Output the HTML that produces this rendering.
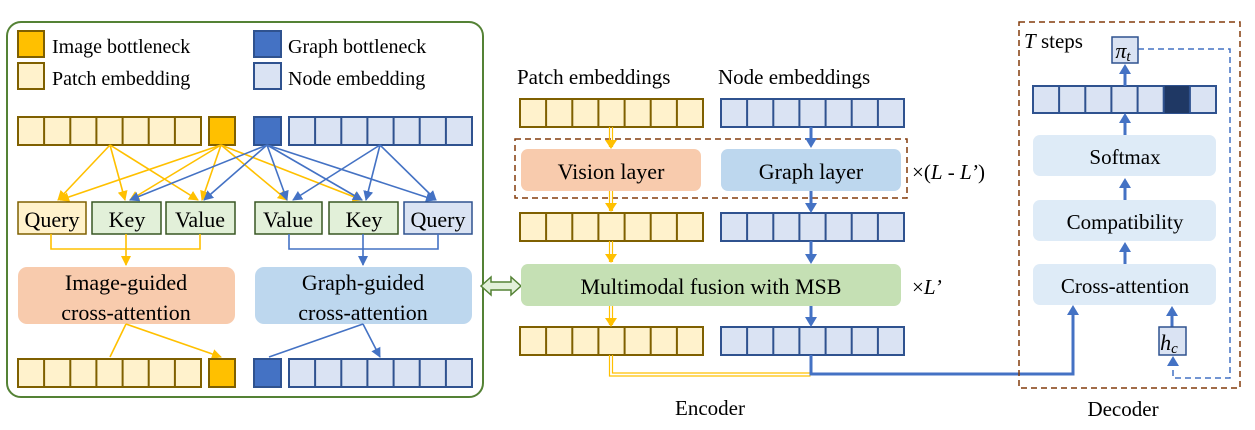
<!DOCTYPE html>
<html><head><meta charset="utf-8"><style>body{margin:0;background:#fff}svg{display:block}text{font-family:"Liberation Serif",serif;fill:#000}</style></head><body>
<svg width="1255" height="430" viewBox="0 0 1255 430" xmlns="http://www.w3.org/2000/svg">
<defs>
<marker id="ay" markerWidth="10" markerHeight="10" refX="9" refY="5" orient="auto" markerUnits="userSpaceOnUse"><path d="M0,0L10,5L0,10z" fill="#ffc000"/></marker>
<marker id="ab" markerWidth="10" markerHeight="10" refX="9" refY="5" orient="auto" markerUnits="userSpaceOnUse"><path d="M0,0L10,5L0,10z" fill="#4472c4"/></marker>
<g id="prow"><rect x="0" y="0" width="183" height="28" fill="#fff2cc" stroke="#7f6000" stroke-width="2"/><path d="M26.1,0v28M52.3,0v28M78.4,0v28M104.6,0v28M130.7,0v28M156.9,0v28" stroke="#7f6000" stroke-width="2"/></g>
<g id="nrow"><rect x="0" y="0" width="183" height="28" fill="#dae3f3" stroke="#2f528f" stroke-width="2"/><path d="M26.1,0v28M52.3,0v28M78.4,0v28M104.6,0v28M130.7,0v28M156.9,0v28" stroke="#2f528f" stroke-width="2"/></g>
</defs>
<rect x="7" y="22" width="476" height="375" rx="14" fill="#fff" stroke="#548235" stroke-width="2"/>
<rect x="18" y="31" width="26" height="26" fill="#ffc000" stroke="#7f6000" stroke-width="2"/>
<rect x="18" y="63" width="26" height="26" fill="#fff2cc" stroke="#7f6000" stroke-width="2"/>
<rect x="254" y="31" width="27" height="26" fill="#4472c4" stroke="#2f528f" stroke-width="2"/>
<rect x="254" y="63" width="27" height="26" fill="#dae3f3" stroke="#2f528f" stroke-width="2"/>
<text x="52" y="53" font-size="20">Image bottleneck</text>
<text x="52" y="85" font-size="20">Patch embedding</text>
<text x="288" y="53" font-size="20">Graph bottleneck</text>
<text x="288" y="85" font-size="20">Node embedding</text>
<use href="#prow" x="18" y="117"/>
<rect x="209" y="117" width="26" height="28" fill="#ffc000" stroke="#7f6000" stroke-width="2"/>
<rect x="254" y="117" width="27" height="28" fill="#4472c4" stroke="#2f528f" stroke-width="2"/>
<use href="#nrow" x="289" y="117"/>
<g stroke-width="1.6" fill="none">
<g stroke="#ffc000" marker-end="url(#ay)">
<path d="M110,145L58,200"/><path d="M110,145L125,200"/><path d="M110,145L198,200"/>
<path d="M221,145L60,200"/><path d="M221,145L130,200"/><path d="M221,145L202,200"/><path d="M221,145L287,200"/><path d="M221,145L362,200"/>
</g>
<g stroke="#4472c4" marker-end="url(#ab)">
<path d="M267,145L130,200"/><path d="M267,145L204,200"/><path d="M267,145L287,200"/><path d="M267,145L362,200"/><path d="M267,145L435,200"/>
<path d="M380,145L293,200"/><path d="M380,145L366,200"/><path d="M380,145L436,200"/>
</g>
</g>
<rect x="18" y="202" width="68" height="32" fill="#fff2cc" stroke="#7f6000" stroke-width="1.5"/>
<rect x="92" y="202" width="69" height="32" fill="#e2f0d9" stroke="#385723" stroke-width="1.5"/>
<rect x="166" y="202" width="69" height="32" fill="#e2f0d9" stroke="#385723" stroke-width="1.5"/>
<rect x="255" y="202" width="67" height="32" fill="#e2f0d9" stroke="#385723" stroke-width="1.5"/>
<rect x="329" y="202" width="69" height="32" fill="#e2f0d9" stroke="#385723" stroke-width="1.5"/>
<rect x="404" y="202" width="68" height="32" fill="#dae3f3" stroke="#2f528f" stroke-width="1.5"/>
<g font-size="22" text-anchor="middle">
<text x="52" y="227">Query</text><text x="127" y="227">Key</text><text x="200" y="227">Value</text>
<text x="288" y="227">Value</text><text x="364" y="227">Key</text><text x="438" y="227">Query</text>
</g>
<path d="M51,234v15h149v-15" stroke="#ffc000" stroke-width="1.6" fill="none"/>
<path d="M126,234v31" stroke="#ffc000" stroke-width="1.6" marker-end="url(#ay)"/>
<path d="M289,234v15h149v-15" stroke="#4472c4" stroke-width="1.6" fill="none"/>
<path d="M363,234v31" stroke="#4472c4" stroke-width="1.6" marker-end="url(#ab)"/>
<rect x="18" y="267" width="217" height="57" rx="9" fill="#f8cbad"/>
<rect x="255" y="267" width="217" height="57" rx="9" fill="#bdd7ee"/>
<g font-size="22" text-anchor="middle">
<text x="126" y="290">Image-guided</text><text x="126" y="320">cross-attention</text>
<text x="363" y="290">Graph-guided</text><text x="363" y="320">cross-attention</text>
</g>
<path d="M126,324L110,357M126,324L221,357" stroke="#ffc000" stroke-width="1.6" marker-end="url(#ay)"/>
<path d="M363,324L269,357M363,324L380,357" stroke="#4472c4" stroke-width="1.6" marker-end="url(#ab)"/>
<use href="#prow" x="18" y="359"/>
<rect x="209" y="359" width="26" height="28" fill="#ffc000" stroke="#7f6000" stroke-width="2"/>
<rect x="254" y="359" width="27" height="28" fill="#4472c4" stroke="#2f528f" stroke-width="2"/>
<use href="#nrow" x="289" y="359"/>
<path d="M481,286l10,-9v5h20v-5l10,9l-10,9v-5h-20v5z" fill="#e2f0d9" stroke="#548235" stroke-width="1.5"/>
<text x="517" y="84" font-size="21">Patch embeddings</text>
<text x="718" y="84" font-size="21">Node embeddings</text>
<use href="#prow" x="520" y="99"/><use href="#nrow" x="721" y="99"/>
<use href="#prow" x="520" y="213"/><use href="#nrow" x="721" y="213"/>
<use href="#prow" x="520" y="327"/><use href="#nrow" x="721" y="327"/>
<rect x="515" y="139" width="392" height="59" fill="none" stroke="#843c0c" stroke-width="1.5" stroke-dasharray="6,4"/>
<rect x="521" y="149" width="180" height="42" rx="7" fill="#f8cbad"/>
<rect x="721" y="149" width="180" height="42" rx="7" fill="#bdd7ee"/>
<text x="611" y="179" font-size="22" text-anchor="middle">Vision layer</text>
<text x="811" y="179" font-size="22" text-anchor="middle">Graph layer</text>
<text x="912" y="179" font-size="21">×(<tspan font-style="italic">L</tspan> - <tspan font-style="italic">L’</tspan>)</text>
<rect x="521" y="264" width="380" height="42" rx="7" fill="#c5e0b4"/>
<text x="711" y="294" font-size="22" text-anchor="middle">Multimodal fusion with MSB</text>
<text x="912" y="294" font-size="21">×<tspan font-style="italic">L’</tspan></text>
<g stroke="#ffc000" stroke-width="1.2" fill="none">
<path d="M609.5,127v20M612.5,127v20M609.5,191v20M612.5,191v20M609.5,241v21M612.5,241v21M609.5,306v19M612.5,306v19"/>
<path d="M609.5,355v21h201M612.5,355v18h198"/>
</g>
<g fill="#ffc000"><path d="M605,140h12l-6,9z"/><path d="M605,203h12l-6,9z"/><path d="M605,254h12l-6,9z"/><path d="M605,318h12l-6,9z"/></g>
<g stroke="#4472c4" stroke-width="3" fill="none">
<path d="M811,127v12M811,191v13M811,241v14M811,306v12"/>
<path d="M811,355v19h262v-62"/>
</g>
<g fill="#4472c4"><path d="M805,138h12l-6,10z"/><path d="M805,203h12l-6,10z"/><path d="M805,254h12l-6,10z"/><path d="M805,317h12l-6,10z"/><path d="M1067,315h12l-6,-10z"/></g>
<text x="710" y="415" font-size="21" text-anchor="middle">Encoder</text>
<rect x="1019" y="22" width="221" height="366" fill="none" stroke="#843c0c" stroke-width="1.5" stroke-dasharray="6,4"/>
<text x="1024" y="48" font-size="21"><tspan font-style="italic">T</tspan> steps</text>
<path d="M1138,49h92v329h-57v-14" fill="none" stroke="#4472c4" stroke-width="1.5" stroke-dasharray="6,4"/>
<path d="M1167,366h12l-6,-10z" fill="#4472c4"/>
<rect x="1112" y="37" width="26" height="26" fill="#dae3f3" stroke="#2f528f" stroke-width="1.5"/>
<text x="1123" y="58" font-size="22" font-style="italic" text-anchor="middle">π<tspan font-size="15" dy="3">t</tspan></text>
<rect x="1033" y="86" width="183" height="27" fill="#dae3f3" stroke="#2f528f" stroke-width="2"/>
<rect x="1163" y="86" width="26" height="27" fill="#1f3864"/>
<path d="M1059.1,86v27M1085.3,86v27M1111.4,86v27M1137.6,86v27M1163.7,86v27M1189.9,86v27" stroke="#2f528f" stroke-width="2"/>
<rect x="1033" y="135" width="183" height="41" rx="7" fill="#deebf7"/>
<rect x="1033" y="200" width="183" height="41" rx="7" fill="#deebf7"/>
<rect x="1033" y="264" width="183" height="41" rx="7" fill="#deebf7"/>
<text x="1125" y="164" font-size="21" text-anchor="middle">Softmax</text>
<text x="1125" y="229" font-size="21" text-anchor="middle">Compatibility</text>
<text x="1125" y="293" font-size="21" text-anchor="middle">Cross-attention</text>
<g stroke="#4472c4" stroke-width="3"><path d="M1125,86v-14M1125,135v-14M1125,200v-14M1125,264v-14M1172,327v-14"/></g>
<g fill="#4472c4"><path d="M1119,74h12l-6,-10z"/><path d="M1119,123h12l-6,-10z"/><path d="M1119,188h12l-6,-10z"/><path d="M1119,252h12l-6,-10z"/><path d="M1166,316h12l-6,-10z"/></g>
<rect x="1159" y="327" width="27" height="28" fill="#dae3f3" stroke="#2f528f" stroke-width="1.5"/>
<text x="1169" y="350" font-size="22" font-style="italic" text-anchor="middle">h<tspan font-size="15" dy="3">c</tspan></text>
<text x="1123" y="416" font-size="21" text-anchor="middle">Decoder</text>
</svg>
</body></html>
